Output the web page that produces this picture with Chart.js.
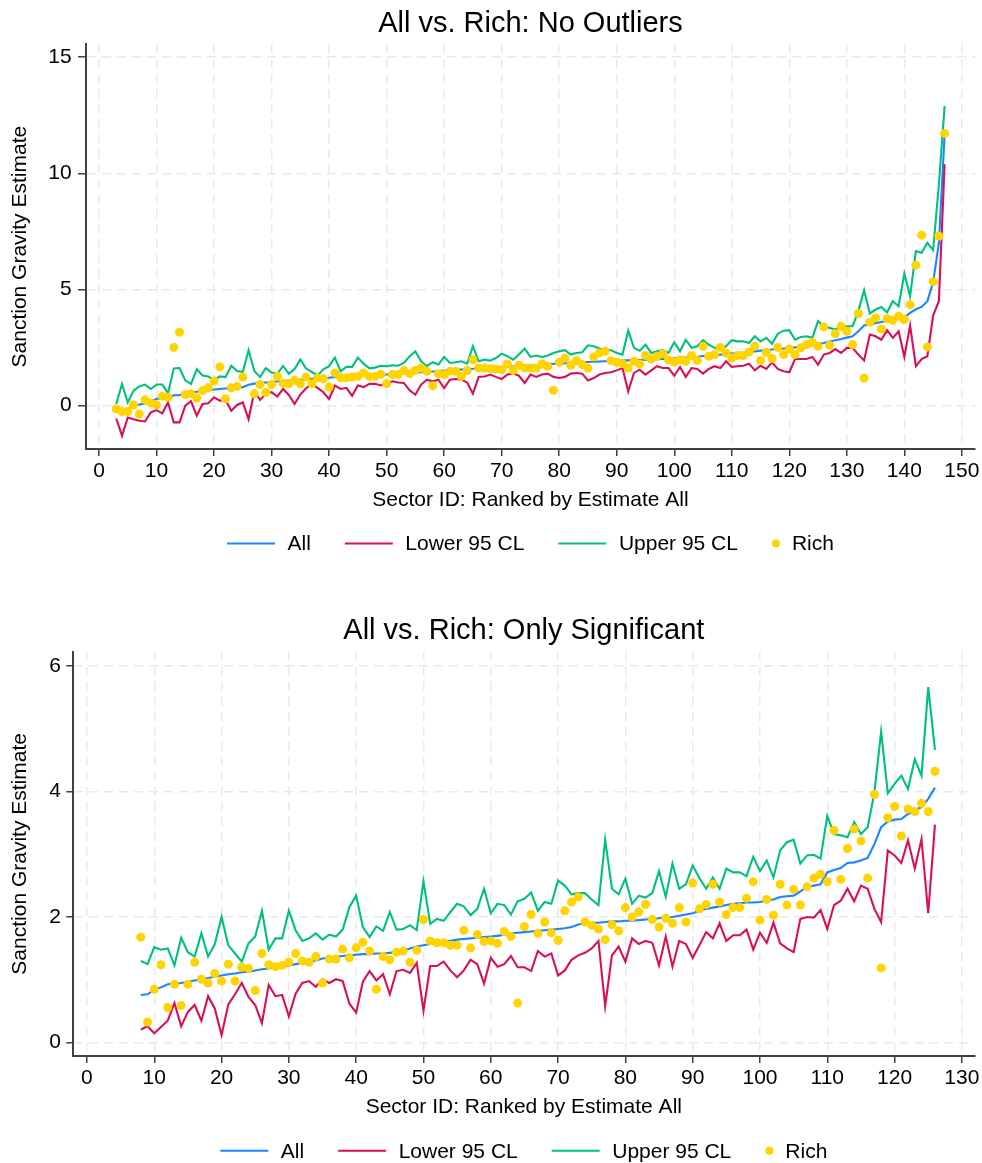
<!DOCTYPE html>
<html>
<head>
<meta charset="utf-8">
<script src="https://cdn.jsdelivr.net/npm/chart.js@4.4.1/dist/chart.umd.min.js"></script>
<style>
  body { margin: 0; background: #fff; }
  canvas { display: block; }
</style>
</head>
<body>
<canvas id="topChart" width="982" height="582"></canvas>
<canvas id="bottomChart" width="982" height="581"></canvas>
<script>
// sector ids start here and go up by one for every value below
const topFirstSector = 3;
const bottomFirstSector = 8;

const seriesLabels = ['All', 'Lower 95 CL', 'Upper 95 CL', 'Rich'];

// top panel: no outliers (sectors 3..147)
const topAll = [
  -0.25, -0.2, -0.15, 0.0, 0.05, 0.1, 0.15, 0.3, 0.3, 0.35,
  0.45, 0.45, 0.55, 0.58, 0.6, 0.65, 0.68, 0.7, 0.72, 0.74,
  0.75, 0.77, 0.8, 0.9, 0.95, 0.97, 1.0, 1.02, 1.04, 1.06,
  1.08, 1.1, 1.12, 1.14, 1.16, 1.17, 1.18, 1.2, 1.24, 1.25,
  1.26, 1.27, 1.28, 1.3, 1.31, 1.32, 1.33, 1.34,
  1.36, 1.37, 1.39, 1.41, 1.42, 1.44, 1.46, 1.47, 1.49, 1.51, 1.52, 1.54, 1.56, 1.57, 1.59, 1.6, 1.62,
  1.63, 1.65, 1.66, 1.68, 1.69, 1.71, 1.72, 1.74, 1.75, 1.77, 1.78, 1.8, 1.81, 1.83, 1.84, 1.86, 1.87,
  1.88, 1.89, 1.9, 1.91, 1.92, 1.93, 1.94, 1.95, 1.96, 1.97, 1.98, 1.99, 2.0, 2.01, 2.02, 2.04, 2.05,
  2.07, 2.09, 2.11, 2.14, 2.16, 2.18, 2.2, 2.22, 2.25, 2.27,
  2.29, 2.32, 2.34, 2.37, 2.39, 2.42, 2.44, 2.46, 2.49, 2.51, 2.54, 2.56,
  2.6, 2.65, 2.7, 2.76, 2.82, 2.87, 2.93, 2.99,
  3.2, 3.45, 3.5, 3.55, 3.6, 3.65, 3.7, 3.75, 3.8, 4.0, 4.15, 4.25, 4.5, 5.3, 7.0, 11.65
];
const topLower = [
  -0.55, -1.3, -0.51, -0.58, -0.65, -0.68, -0.29, -0.19, -0.33, 0.14,
  -0.72, -0.72, 0.0, 0.19, -0.43, 0.07, 0.1, 0.36, 0.22, 0.25,
  -0.22, 0.03, 0.14, -0.58, 0.62, 0.25, 0.51, 0.58, 0.39, 0.72,
  0.46, 0.07, 0.48, 0.75, 0.94, 0.77, 0.58, 0.29, 0.87, 0.72,
  0.77, 0.43, 0.87, 0.8, 0.94, 0.94, 0.87, 0.95,
  1.05, 1.0, 0.98, 0.66, 0.47, 0.91, 1.12, 1.05, 1.12, 0.76, 1.12, 1.15, 1.12, 1.0, 0.52, 1.24, 1.26,
  1.34, 1.24, 1.15, 1.34, 1.38, 1.29, 0.98, 1.34, 1.24, 1.34, 1.38, 1.24, 1.19, 1.24, 1.38, 1.41, 1.38,
  1.09, 1.19, 1.34, 1.41, 1.44, 1.52, 1.62, 0.62, 1.41, 1.55, 1.34, 1.52, 1.7, 1.62, 1.62, 1.29, 1.67,
  1.24, 1.62, 1.58, 1.38, 1.58, 1.7, 1.62, 1.91, 1.67, 1.7,
  1.72, 1.81, 1.52, 1.72, 1.58, 1.87, 1.58, 1.48, 1.44, 2.01, 2.01, 2.01,
  2.1, 1.77, 2.2, 2.27, 2.44, 2.27, 2.49, 2.49,
  2.2, 1.95, 3.06, 2.99, 2.84, 3.25, 2.92, 3.2, 2.1, 3.45, 1.7, 2.01, 2.13, 3.88, 4.5, 10.39
];
const topUpper = [
  0.07, 0.94, 0.14, 0.65, 0.83, 0.91, 0.72, 0.91, 0.91, 0.54,
  1.6, 1.62, 1.09, 0.94, 1.57, 1.3, 1.26, 1.09, 1.26, 1.23,
  1.72, 1.49, 1.45, 2.39, 1.49, 1.23, 1.62, 1.43, 1.38, 1.71,
  1.38, 1.58, 1.99, 1.6, 1.45, 1.3, 1.57, 1.7, 2.07, 1.48,
  1.67, 1.67, 2.07, 1.81, 1.61, 1.64, 1.72, 1.7,
  1.74, 1.72, 1.84, 2.13, 2.34, 1.91, 1.7, 1.87, 1.77, 2.1, 1.84, 1.87, 1.91, 1.81, 2.56, 1.91, 1.98,
  1.94, 2.05, 2.24, 2.13, 1.98, 2.2, 2.46, 2.1, 2.16, 2.1, 2.16, 2.27, 2.34, 2.39, 2.2, 2.27, 2.3,
  2.6, 2.56, 2.46, 2.41, 2.39, 2.27, 2.2, 3.23, 2.49, 2.37, 2.63, 2.27, 2.34, 2.39, 2.27, 2.73, 2.34,
  2.84, 2.49, 2.56, 2.82, 2.63, 2.49, 2.41, 2.56, 2.82, 2.77,
  2.77, 2.7, 2.99, 2.77, 2.92, 2.67, 3.1, 3.23, 3.25, 2.84, 2.96, 2.99,
  2.92, 3.64, 3.42, 3.35, 3.28, 3.39, 3.42, 3.42,
  4.07, 4.97, 3.97, 4.14, 4.25, 4.02, 4.5, 4.28, 5.69, 4.71, 6.65, 6.58, 7.01, 6.7, 9.5, 12.9
];
const topRich = [
  -0.14, -0.25, -0.25, 0.03, -0.36, 0.25, 0.12, 0.04, 0.41, 0.36,
  2.51, 3.16, 0.48, 0.51, 0.33, 0.65, 0.77, 1.06, 1.67, 0.3,
  0.77, 0.83, 1.23, null, 0.51, 0.91, 0.57, 0.91, 1.26, 0.97,
  0.94, 1.09, 0.94, 1.23, 0.94, 1.19, 1.16, 0.8, 1.41, 1.2,
  1.2, 1.23, 1.26, 1.41, 1.26, 1.26, 1.35, 0.95,
  1.34, 1.34, 1.51, 1.38, 1.52, 1.62, 1.48, 0.86, 1.38, 1.34, 1.48, 1.48, 1.26, 1.51, 1.98, 1.62, 1.62,
  1.59, 1.58, 1.55, 1.8, 1.52, 1.74, 1.62, 1.62, 1.62, 1.8, 1.7, 0.66, 1.87, 2.05, 1.74, 1.94, 1.77,
  1.62, 2.1, 2.27, 2.34, 1.94, 1.87, 1.81, 1.62, 1.91, 1.8, 2.16, 2.01, 2.13, 2.23, 1.98, 1.88, 1.98,
  1.91, 2.16, 1.95, 2.56, 2.13, 2.2, 2.51, 2.27, 2.05, 2.16,
  2.16, 2.31, 2.56, 1.95, 2.3, 2.03, 2.51, 2.2, 2.44, 2.2, 2.49, 2.63,
  2.73, 2.56, 3.39, 2.6, 3.1, 3.42, 3.2, 2.63,
  3.97, 1.19, 3.59, 3.78, 3.3, 3.74, 3.68, 3.85, 3.71, 4.35, 6.05, 7.34, 2.53, 5.34, 7.3, 11.72
];

// bottom panel: only significant (sectors 8..126)
const bottomAll = [
  0.76, 0.77, 0.84, 0.88, 0.93, 0.94, 0.95, 0.97, 0.99, 1.01, 1.03, 1.05, 1.07, 1.09,
  1.1, 1.12, 1.13, 1.15, 1.17, 1.18, 1.2, 1.21, 1.23, 1.25, 1.27, 1.29, 1.31, 1.34,
  1.35, 1.37, 1.38, 1.39, 1.4, 1.41, 1.41, 1.42, 1.42, 1.43, 1.45, 1.47, 1.5, 1.53,
  1.55, 1.57, 1.58, 1.6, 1.62, 1.64, 1.65, 1.66, 1.67, 1.68, 1.69, 1.7, 1.72, 1.74,
  1.75, 1.76, 1.77, 1.78, 1.79, 1.8, 1.81, 1.82, 1.84, 1.88, 1.9, 1.91, 1.91, 1.92,
  1.93, 1.93, 1.94, 1.94, 1.95, 1.96, 1.97, 1.98, 1.99, 2.0, 2.02, 2.04,
  2.06, 2.1, 2.13, 2.15, 2.17, 2.19, 2.21, 2.22, 2.23, 2.23, 2.24, 2.26, 2.28, 2.32,
  2.33, 2.34, 2.41, 2.48, 2.5, 2.52, 2.71, 2.75, 2.78, 2.86, 2.87, 2.9, 2.94, 3.16,
  3.43, 3.52, 3.55, 3.56, 3.64, 3.7, 3.75, 3.88, 4.06
];
const bottomLower = [
  0.21, 0.26, 0.15, 0.25, 0.35, 0.63, 0.26, 0.49, 0.6, 0.35, 0.74, 0.54, 0.12, 0.61,
  0.77, 0.95, 0.73, 0.6, 0.31, 0.92, 0.74, 0.76, 0.42, 0.78, 0.95, 0.98, 0.89, 1.01,
  0.95, 1.01, 0.98, 0.62, 0.48, 0.97, 1.14, 0.99, 1.09, 0.77, 1.14, 1.16, 1.11, 1.27,
  0.51, 1.22, 1.22, 1.29, 1.15, 1.04, 1.15, 1.32, 1.25, 0.94, 1.35, 1.21, 1.25, 1.38,
  1.2, 1.2, 1.14, 1.46, 1.37, 1.42, 1.07, 1.15, 1.32, 1.39, 1.43, 1.5, 1.62, 0.58,
  1.39, 1.53, 1.29, 1.66, 1.57, 1.62, 1.59, 1.23, 1.69, 1.21, 1.62, 1.57,
  1.35, 1.55, 1.76, 1.66, 1.9, 1.62, 1.71, 1.71, 1.8, 1.48, 1.75, 1.59, 1.91, 1.58,
  1.5, 1.44, 1.97, 2.0, 1.99, 2.11, 1.81, 2.19, 2.26, 2.45, 2.25, 2.5, 2.45, 2.13,
  1.92, 3.06, 2.98, 2.86, 3.22, 2.77, 3.24, 2.06, 3.47
];
const bottomUpper = [
  1.3, 1.25, 1.52, 1.48, 1.5, 1.23, 1.67, 1.44, 1.37, 1.74, 1.37, 1.57, 2.0, 1.55,
  1.42, 1.29, 1.58, 1.69, 2.1, 1.48, 1.66, 1.66, 2.1, 1.79, 1.62, 1.66, 1.74, 1.64,
  1.72, 1.69, 1.8, 2.16, 2.34, 1.84, 1.68, 1.85, 1.78, 2.08, 1.8, 1.81, 1.87, 1.79,
  2.57, 1.89, 1.97, 1.94, 2.08, 2.21, 2.17, 2.03, 2.13, 2.45, 2.06, 2.21, 2.19, 2.04,
  2.25, 2.29, 2.39, 2.1, 2.24, 2.21, 2.58, 2.5, 2.36, 2.38, 2.38, 2.28, 2.19, 3.23,
  2.45, 2.36, 2.61, 2.21, 2.34, 2.31, 2.38, 2.73, 2.32, 2.85, 2.45, 2.52,
  2.82, 2.62, 2.45, 2.63, 2.45, 2.77, 2.71, 2.71, 2.65, 2.96, 2.73, 2.9, 2.63, 3.06,
  3.19, 3.23, 2.85, 2.98, 2.99, 2.93, 3.61, 3.32, 3.3, 3.27, 3.51, 3.32, 3.43, 3.98,
  4.95, 3.97, 4.12, 4.25, 4.04, 4.51, 4.25, 5.66, 4.66
];
const bottomRich = [
  1.68, 0.33, 0.85, 1.24, 0.56, 0.93, 0.59, 0.93, 1.28, 1.01, 0.95, 1.1, 0.98, 1.25,
  0.98, 1.2, 1.18, 0.83, 1.42, 1.24, 1.21, 1.23, 1.28, 1.42, 1.3, 1.28, 1.37, 0.95,
  1.33, 1.33, 1.49, 1.35, 1.51, 1.6, 1.46, 0.85, 1.37, 1.32, 1.44, 1.46, 1.28, 1.47,
  1.96, 1.62, 1.59, 1.59, 1.55, 1.55, 1.79, 1.51, 1.72, 1.61, 1.62, 1.58, 1.77, 1.69,
  0.63, 1.85, 2.04, 1.74, 1.92, 1.75, 1.63, 2.1, 2.24, 2.32, 1.92, 1.87, 1.81, 1.64,
  1.88, 1.78, 2.15, 2.0, 2.08, 2.2, 1.96, 1.84, 1.98, 1.9, 2.15, 1.92,
  2.54, 2.13, 2.2, 2.52, 2.24, 2.04, 2.15, 2.15, 2.3, 2.56, 1.95, 2.28, 2.03, 2.52,
  2.19, 2.44, 2.19, 2.48, 2.62, 2.68, 2.56, 3.38, 2.6, 3.09, 3.4, 3.21, 2.62, 3.95,
  1.19, 3.58, 3.76, 3.29, 3.72, 3.68, 3.81, 3.68, 4.32
];

const topXTicks = [0, 10, 20, 30, 40, 50, 60, 70, 80, 90, 100, 110, 120, 130, 140, 150];
const topYTicks = [0, 5, 10, 15];
const bottomXTicks = [0, 10, 20, 30, 40, 50, 60, 70, 80, 90, 100, 110, 120, 130];
const bottomYTicks = [0, 2, 4, 6];

const FONT = '"Liberation Sans", Arial, Helvetica, sans-serif';
const BLUE = '#1a85ff';
const RED = '#d41159';
const GREEN = '#00bf7f';
const YELLOW = '#ffd400';
const GRID = '#e9e9e9';
const AXIS = '#404040';

function toPoints(values, first) {
  return values.map((v, i) => ({ x: first + i, y: v }));
}

// legend row drawn under the x axis title, centred on the plot area
const keyRow = {
  id: 'keyRow',
  afterDraw(chart, args, opts) {
    const ctx = chart.ctx;
    const area = chart.chartArea;
    ctx.save();
    ctx.font = '21px ' + FONT;
    ctx.textBaseline = 'middle';
    ctx.fillStyle = '#000';
    const items = chart.data.datasets.map(ds => ({
      label: ds.label,
      color: ds.showLine === false ? ds.backgroundColor : ds.borderColor,
      dot: ds.showLine === false,
      w: ctx.measureText(ds.label).width
    }));
    const gap = 34;
    let total = 0;
    items.forEach((it, i) => {
      it.sym = it.dot ? 20 : 60.5;
      total += it.sym + it.w + (i > 0 ? gap : 0);
    });
    let x = (area.left + area.right) / 2 - total / 2;
    const y = opts.y;
    items.forEach(it => {
      if (it.dot) {
        ctx.fillStyle = it.color;
        ctx.beginPath();
        ctx.arc(x + 4, y, 4, 0, Math.PI * 2);
        ctx.fill();
      } else {
        ctx.strokeStyle = it.color;
        ctx.lineWidth = 2;
        ctx.beginPath();
        ctx.moveTo(x, y);
        ctx.lineTo(x + 48, y);
        ctx.stroke();
      }
      ctx.fillStyle = '#000';
      ctx.fillText(it.label, x + it.sym, y + 1.2);
      x += it.sym + it.w + gap;
    });
    ctx.restore();
  }
};

function makeChart(id, p) {
  const datasets = [
    { label: seriesLabels[0], data: toPoints(p.all, p.first), borderColor: BLUE, order: 4 },
    { label: seriesLabels[1], data: toPoints(p.lower, p.first), borderColor: RED, order: 3 },
    { label: seriesLabels[2], data: toPoints(p.upper, p.first), borderColor: GREEN, order: 2 },
    { label: seriesLabels[3], data: toPoints(p.rich, p.first), showLine: false,
      backgroundColor: YELLOW, borderColor: YELLOW, borderWidth: 0, pointRadius: 4.5, order: 1 }
  ];
  datasets.slice(0, 3).forEach(ds => {
    ds.borderWidth = 2.1;
    ds.pointRadius = 0;
    ds.tension = 0;
    ds.fill = false;
  });

  return new Chart(document.getElementById(id), {
    type: 'line',
    data: { datasets },
    options: {
      responsive: false,
      animation: false,
      events: [],
      layout: { padding: { left: 0, top: 0, right: 7, bottom: p.padBottom } },
      plugins: {
        legend: { display: false },
        tooltip: { enabled: false },
        title: {
          display: true,
          text: p.title,
          color: '#000',
          fullSize: false,
          font: { size: 29, family: FONT, weight: 'normal' },
          padding: { top: p.titleTop, bottom: p.titleBottom }
        },
        keyRow: { y: p.keyY }
      },
      scales: {
        x: {
          type: 'linear',
          min: p.xMin,
          max: p.xMax,
          afterBuildTicks: s => { s.ticks = p.xTicks.map(v => ({ value: v })); },
          afterFit: s => { s.height = p.xHeight; },
          ticks: { color: '#000', font: { size: 21, family: FONT }, padding: 2.5, maxRotation: 0, autoSkip: false },
          grid: { color: GRID, lineWidth: 1.5, tickLength: 7, tickColor: AXIS, tickWidth: 1.5, tickBorderDash: [] },
          border: { display: true, color: AXIS, width: 2, dash: [9, 6] },
          title: {
            display: true,
            text: 'Sector ID: Ranked by Estimate All',
            color: '#000',
            font: { size: 21, family: FONT },
            padding: { top: 0, bottom: p.xTitlePad }
          }
        },
        y: {
          type: 'linear',
          min: p.yMin,
          max: p.yMax,
          afterBuildTicks: s => { s.ticks = p.yTicks.map(v => ({ value: v })); },
          afterFit: s => { s.width = p.yWidth; },
          ticks: { color: '#000', font: { size: 21, family: FONT }, padding: p.yTickPad },
          grid: { color: GRID, lineWidth: 1.5, tickLength: p.yTickLen, tickColor: AXIS, tickWidth: 1.5, tickBorderDash: [] },
          border: { display: true, color: AXIS, width: 2, dash: [9, 6] },
          title: {
            display: true,
            text: 'Sanction Gravity Estimate',
            color: '#000',
            font: { size: 21, family: FONT },
            padding: { top: 8, bottom: 0 }
          }
        }
      }
    },
    plugins: [keyRow]
  });
}

makeChart('topChart', {
  title: 'All vs. Rich: No Outliers',
  first: topFirstSector,
  all: topAll, lower: topLower, upper: topUpper, rich: topRich,
  xTicks: topXTicks, yTicks: topYTicks,
  xMin: -2.26, xMax: 152.27, yMin: -1.864, yMax: 15.556,
  titleTop: 6.5, titleBottom: 3.0,
  padBottom: 62, xHeight: 71, xTitlePad: 7.2,
  yWidth: 86, yTickLen: 8, yTickPad: 6.3,
  keyY: 543.5
});

makeChart('bottomChart', {
  title: 'All vs. Rich: Only Significant',
  first: bottomFirstSector,
  all: bottomAll, lower: bottomLower, upper: bottomUpper, rich: bottomRich,
  xTicks: bottomXTicks, yTicks: bottomYTicks,
  xMin: -2.03, xMax: 131.85, yMin: -0.212, yMax: 6.223,
  titleTop: 31.1, titleBottom: 3.8,
  padBottom: 35, xHeight: 72, xTitlePad: 8.2,
  yWidth: 73.3, yTickLen: 7, yTickPad: 5.3,
  keyY: 568.7
});
</script>
</body>
</html>
